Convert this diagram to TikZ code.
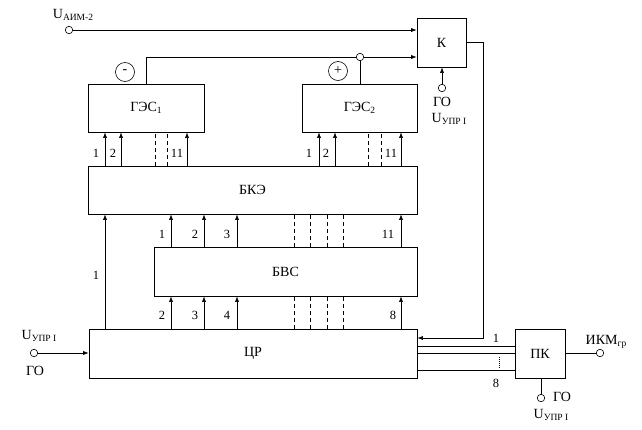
\documentclass[tikz,border=0pt]{standalone}
\usepackage{fontspec}
\setmainfont{Liberation Serif}
\usetikzlibrary{arrows.meta}
\newcommand\subs[1]{\raisebox{-0.35ex}{\fontsize{9.5}{10}\selectfont #1}}
\begin{document}
\begin{tikzpicture}[x=1pt,y=-1pt,
  font=\fontsize{14}{16}\selectfont,
  blk/.style={draw,line width=0.7pt,inner sep=0pt},
  wire/.style={line width=0.6pt},
  arr/.style={wire,-{Latex[length=5.5pt,width=4pt]}},
  dsh/.style={wire,dash pattern=on 4pt off 3pt},
  term/.style={circle,draw,line width=0.6pt,minimum size=7.5pt,inner sep=0pt,fill=white},
  num/.style={font=\fontsize{12.5}{14}\selectfont,inner sep=0pt},
  lbl/.style={inner sep=0pt},
  sgn/.style={circle,draw,line width=0.6pt,minimum size=19pt,inner sep=0pt}]
\useasboundingbox (0,0) rectangle (642,429);

% blocks
\node[blk,minimum width=116pt,minimum height=48pt] (g1) at (146,108) {ГЭС\subs{1}};
\node[blk,minimum width=115pt,minimum height=48pt] (g2) at (359.5,108) {ГЭС\subs{2}};
\node[blk,minimum width=49pt,minimum height=49pt] (k) at (441.5,42.5) {К};
\node[blk,minimum width=329pt,minimum height=48pt] (bke) at (252.5,190) {БКЭ};
\node[blk,minimum width=263pt,minimum height=49pt] (bvs) at (285.5,271.5) {БВС};
\node[blk,minimum width=328pt,minimum height=49pt] (cr) at (253,353.5) {ЦР};
\node[blk,minimum width=50pt,minimum height=49pt] (pk) at (540,353.5) {ПК};

% U_AIM-2 input
\node[term] (ta) at (69,30) {};
\node[lbl] (la) at (73,15) {U\subs{АИМ-2}};
\draw[arr] (ta) -- (ta -| k.west);

% feedback from GES
\coordinate (g1t) at (146,57);
\node[term] (j) at (360,57) {};
\draw[wire] (g1.north) -- (g1t) -- (j);
\draw[wire] (j |- g2.north) -- (j);
\draw[arr] (j) -- (j -| k.west);
\node[sgn] (mn) at (125,72) {-};
\node[sgn] (pl) at (338,71) {+};

% K bottom input
\node[term] (tk) at (442,88) {};
\draw[arr] (tk) -- (tk |- k.south);
\node[lbl] (lk1) at (442,102) {ГО};
\node[lbl] (lk2) at (449,119) {U\subs{УПР I}};

% K output to CR
\coordinate (kr) at (483,338);
\draw[arr] (k.east) -| (kr) -- (kr -| cr.east);

% CR -> PK lines
\foreach \y in {346,353,370} \draw[wire] (cr.east |- 0,\y) -- (pk.west |- 0,\y);
\draw[wire,dash pattern=on 1pt off 1pt] (499,357) -- (499,368);
\node[num] (n1p) at (496,338) {1};
\node[num] (n8p) at (496,383) {8};

% PK output
\node[term] (to) at (600,353) {};
\draw[wire] (pk.east |- to) -- (to);
\node[lbl] (lo) at (606,342) {ИКМ\subs{гр}};

% PK bottom
\node[term] (tp) at (541,398) {};
\draw[wire] (pk.south -| tp) -- (tp);
\node[lbl] (lp1) at (562,397) {ГО};
\node[lbl] (lp2) at (551,415) {U\subs{УПР I}};

% CR left input
\node[term] (tl) at (34,353) {};
\draw[arr] (tl) -- (tl -| cr.west);
\node[lbl] (ll1) at (39,336) {U\subs{УПР I}};
\node[lbl] (ll2) at (35,371) {ГО};

% BKE -> GES1
\foreach \x in {105,121,187} \draw[arr] (bke.north -| \x,0) -- (g1.south -| \x,0);
\foreach \x in {155,167} \draw[dsh] (bke.north -| \x,0) -- (g1.south -| \x,0);
\node[num] at (96,153) {1};
\node[num] at (113,153) {2};
\node[num] at (177,153) {11};
% BKE -> GES2
\foreach \x in {319,335,401} \draw[arr] (bke.north -| \x,0) -- (g2.south -| \x,0);
\foreach \x in {368,381} \draw[dsh] (bke.north -| \x,0) -- (g2.south -| \x,0);
\node[num] at (309,153) {1};
\node[num] at (326,153) {2};
\node[num] at (391,153) {11};

% CR -> BKE (1)
\draw[arr] (cr.north -| 105,0) -- (bke.south -| 105,0);
\node[num] at (96,275) {1};

% BVS -> BKE
\foreach \x in {171,204,237,401} \draw[arr] (bvs.north -| \x,0) -- (bke.south -| \x,0);
\foreach \x in {294,310,327,343} \draw[dsh] (bvs.north -| \x,0) -- (bke.south -| \x,0);
\node[num] at (162,234) {1};
\node[num] at (195,234) {2};
\node[num] at (227,234) {3};
\node[num] at (388,234) {11};

% CR -> BVS
\foreach \x in {171,204,237,401} \draw[arr] (cr.north -| \x,0) -- (bvs.south -| \x,0);
\foreach \x in {294,310,327,343} \draw[dsh] (cr.north -| \x,0) -- (bvs.south -| \x,0);
\node[num] at (162,315) {2};
\node[num] at (195,315) {3};
\node[num] at (227,315) {4};
\node[num] at (393,315) {8};
\end{tikzpicture}
\end{document}
